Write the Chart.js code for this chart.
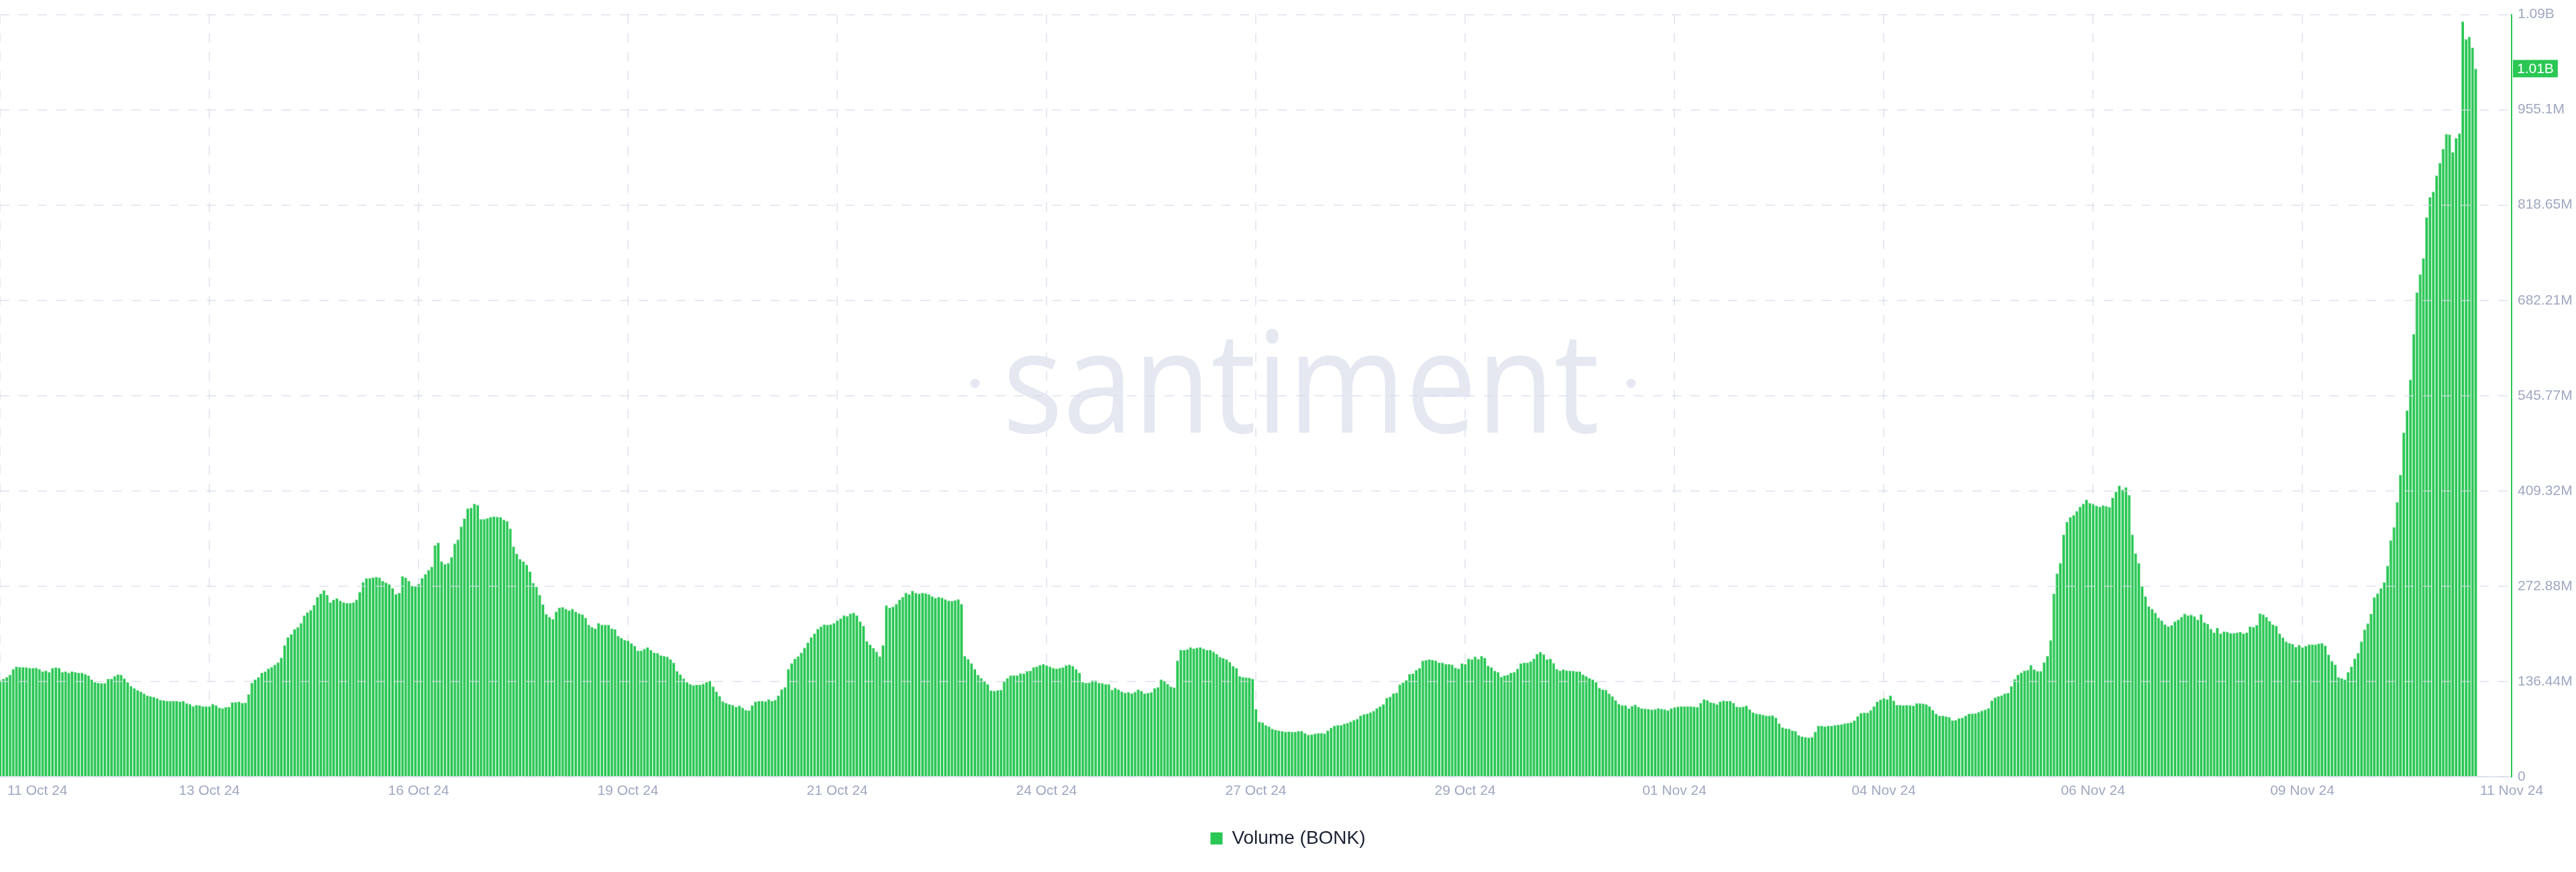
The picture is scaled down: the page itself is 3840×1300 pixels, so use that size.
<!DOCTYPE html>
<html>
<head>
<meta charset="utf-8">
<title>Volume (BONK)</title>
<script src="https://cdn.jsdelivr.net/npm/chart.js@4.4.1/dist/chart.umd.min.js"></script>
<style>
  html, body { margin: 0; padding: 0; background: #fff; }
  #wrap { width: 3840px; height: 1300px; }
</style>
</head>
<body>
<div id="wrap"><canvas id="volumeChart" width="3840" height="1300"></canvas></div>
<script>
// hourly volume in millions of BONK, starting 11 Oct 24
const volumes = [
  138.0, 140.2, 142.8, 146.3, 154.5, 158.0, 157.4, 157.4, 157.1, 156.1, 155.8, 156.4, 154.5, 150.7, 152.3, 150.1, 155.5, 156.7, 156.1, 150.1,
  151.0, 149.1, 151.0, 150.1, 149.1, 149.1, 146.9, 145.0, 139.3, 135.5, 134.5, 134.2, 134.2, 140.2, 140.2, 144.1, 146.6, 146.3, 140.9, 135.5,
  130.1, 126.9, 124.1, 122.2, 119.0, 116.4, 115.5, 114.2, 112.6, 110.1, 109.8, 108.5, 108.8, 108.5, 108.5, 107.9, 108.5, 105.3, 104.4, 101.2,
  102.8, 102.5, 101.2, 100.9, 101.2, 104.4, 102.5, 99.0, 98.4, 99.9, 100.3, 106.9, 107.2, 107.9, 105.7, 106.3, 118.4, 134.5, 139.6, 142.8,
  149.1, 151.0, 155.2, 157.4, 160.6, 164.0, 170.7, 188.5, 199.9, 204.3, 211.3, 214.2, 219.9, 231.0, 235.8, 238.9, 246.2, 257.6, 262.4, 267.2,
  260.5, 250.0, 253.8, 255.4, 252.3, 250.0, 248.8, 248.8, 249.7, 253.8, 264.9, 278.6, 284.3, 284.6, 285.6, 286.5, 285.3, 280.5, 278.3, 275.7,
  270.3, 261.8, 263.4, 287.2, 285.3, 280.8, 273.5, 273.2, 276.4, 284.9, 290.3, 296.4, 300.8, 331.9, 335.1, 308.4, 304.6, 306.2, 314.8, 334.1,
  339.8, 358.2, 369.7, 384.3, 385.5, 391.2, 389.0, 369.0, 369.3, 370.6, 372.2, 372.8, 372.5, 371.9, 368.4, 366.5, 355.7, 330.0, 319.5, 311.9,
  308.4, 303.7, 294.1, 277.6, 272.2, 260.5, 247.2, 233.2, 229.1, 225.6, 236.7, 242.1, 243.1, 240.5, 238.3, 240.5, 236.7, 234.2, 232.6, 227.8,
  217.7, 214.2, 212.3, 219.9, 217.7, 217.7, 217.7, 212.6, 211.3, 201.8, 198.9, 196.1, 195.1, 191.3, 187.5, 180.5, 180.5, 183.1, 185.3, 181.8,
  178.0, 177.4, 173.9, 172.9, 172.0, 168.5, 163.4, 151.4, 146.6, 140.9, 135.8, 132.9, 131.4, 132.0, 132.0, 133.3, 135.8, 137.7, 129.5, 122.2,
  116.1, 108.2, 105.7, 104.1, 102.8, 100.3, 101.9, 99.0, 95.8, 95.2, 102.5, 107.9, 108.5, 108.5, 108.2, 111.1, 108.5, 110.1, 116.4, 125.3,
  128.5, 154.5, 162.8, 169.1, 172.6, 178.0, 185.0, 192.3, 199.9, 205.3, 212.0, 215.4, 218.3, 217.7, 218.6, 219.9, 223.7, 226.6, 231.3, 230.4,
  233.9, 235.1, 231.3, 222.7, 216.1, 194.5, 189.1, 184.4, 179.3, 172.6, 188.2, 245.6, 242.4, 243.7, 247.5, 253.5, 257.3, 263.7, 261.5, 266.5,
  263.4, 262.4, 263.7, 263.0, 261.5, 258.3, 256.1, 257.6, 256.4, 254.2, 252.3, 251.6, 253.2, 254.2, 247.5, 173.2, 168.8, 162.8, 154.5, 146.3,
  141.5, 137.4, 132.6, 123.7, 123.1, 124.1, 124.7, 137.1, 141.2, 145.0, 145.6, 145.6, 147.9, 147.9, 151.4, 152.0, 157.1, 158.0, 160.2, 161.5,
  159.9, 158.0, 156.1, 155.2, 156.1, 157.1, 159.6, 160.9, 159.0, 154.5, 149.1, 135.8, 134.5, 134.9, 138.0, 138.0, 134.5, 134.2, 132.6, 132.6,
  124.7, 127.6, 125.0, 122.2, 120.6, 121.5, 119.6, 121.8, 125.0, 123.1, 119.6, 120.3, 121.2, 126.9, 128.5, 139.6, 137.4, 133.3, 129.5, 127.9,
  166.6, 182.1, 181.8, 182.4, 185.3, 184.0, 185.0, 185.3, 183.4, 181.5, 181.8, 179.3, 176.1, 171.7, 170.1, 168.2, 164.4, 158.7, 155.5, 144.4,
  142.8, 142.5, 141.8, 140.2, 97.1, 79.0, 77.7, 74.2, 72.3, 68.9, 67.3, 66.3, 65.4, 64.7, 65.0, 64.4, 64.4, 65.7, 65.7, 62.5,
  60.3, 60.9, 61.9, 62.5, 62.8, 62.2, 66.3, 70.1, 73.3, 74.2, 73.9, 75.8, 77.4, 79.3, 81.5, 83.1, 87.9, 89.8, 90.4, 92.3,
  94.6, 98.4, 100.9, 104.1, 113.0, 114.9, 119.6, 120.6, 132.3, 135.2, 138.3, 147.5, 147.9, 153.3, 155.5, 166.3, 167.2, 168.2, 167.5, 166.6,
  163.7, 163.7, 161.8, 161.5, 160.9, 156.4, 155.2, 162.5, 161.5, 169.4, 168.2, 172.3, 168.8, 173.2, 170.4, 159.3, 157.1, 152.0, 150.4, 143.1,
  145.0, 146.0, 149.1, 150.4, 154.8, 162.5, 163.7, 163.4, 165.3, 169.4, 176.1, 178.6, 175.5, 168.2, 169.1, 163.1, 154.5, 152.3, 153.6, 152.6,
  151.7, 151.7, 151.0, 151.0, 146.6, 144.1, 141.5, 139.3, 135.8, 127.6, 125.0, 124.7, 119.0, 115.5, 109.5, 104.4, 102.5, 102.5, 98.0, 101.5,
  103.4, 100.3, 98.0, 97.7, 97.1, 96.5, 96.8, 98.4, 97.4, 96.8, 95.2, 98.0, 99.6, 100.6, 101.2, 101.2, 100.9, 100.9, 100.6, 99.9,
  105.7, 111.1, 109.8, 106.6, 105.7, 103.8, 107.9, 109.2, 108.8, 108.5, 105.7, 100.6, 99.9, 100.6, 101.9, 96.8, 92.3, 90.7, 90.1, 89.2,
  87.9, 87.6, 88.2, 85.0, 76.5, 70.8, 69.5, 68.9, 66.3, 65.7, 59.7, 57.7, 57.1, 56.5, 56.8, 64.4, 73.0, 73.0, 72.3, 73.0,
  73.0, 73.9, 74.6, 75.5, 76.5, 77.4, 77.7, 80.6, 86.9, 91.4, 92.0, 92.0, 95.5, 100.9, 107.6, 110.4, 112.6, 111.1, 116.4, 109.2,
  102.8, 102.8, 102.5, 102.8, 102.5, 101.9, 105.3, 105.3, 105.0, 103.8, 101.2, 95.8, 90.4, 87.6, 87.9, 86.6, 85.4, 81.2, 81.5, 84.1,
  84.7, 87.6, 90.4, 90.7, 91.1, 93.0, 94.9, 96.5, 98.4, 109.2, 113.9, 115.2, 116.8, 119.0, 120.3, 129.8, 139.9, 146.3, 149.4, 152.3,
  153.3, 160.2, 153.9, 151.4, 151.4, 164.0, 173.2, 195.8, 262.1, 291.3, 306.2, 346.8, 364.9, 371.9, 374.7, 380.4, 386.8, 390.9, 396.6, 392.2,
  390.6, 388.4, 386.8, 388.7, 387.7, 386.5, 399.8, 408.4, 416.9, 411.2, 414.7, 403.3, 347.1, 319.8, 306.2, 273.2, 258.3, 244.3, 240.5, 235.1,
  228.1, 223.7, 218.6, 215.4, 217.4, 222.7, 225.3, 229.1, 233.9, 231.3, 232.3, 230.0, 225.3, 232.9, 221.5, 218.9, 212.0, 206.8, 213.3, 205.4,
  208.2, 207.5, 206.1, 206.1, 206.8, 207.5, 205.4, 206.8, 215.4, 214.7, 217.6, 234.1, 232.7, 229.1, 223.3, 218.3, 216.1, 205.4, 199.6, 193.9,
  191.7, 190.3, 186.0, 188.9, 185.3, 187.4, 189.6, 189.6, 189.6, 191.0, 191.7, 188.1, 175.2, 165.9, 160.9, 142.9, 141.5, 139.3, 150.1, 158.0,
  169.5, 177.4, 193.9, 211.1, 219.7, 233.4, 257.1, 262.8, 270.0, 278.6, 302.3, 338.9, 357.6, 393.5, 432.3, 493.3, 524.9, 568.7, 634.1, 693.7,
  719.5, 742.5, 801.4, 830.1, 838.0, 861.0, 879.0, 899.1, 920.6, 919.9, 894.8, 914.9, 921.3, 1081.5, 1056.3, 1059.9, 1044.1, 1014.0
];

// one date label every 64 hours
const hoursPerTick = 64;
const xTickLabels = ['11 Oct 24', '13 Oct 24', '16 Oct 24', '19 Oct 24', '21 Oct 24', '24 Oct 24', '27 Oct 24',
  '29 Oct 24', '01 Nov 24', '04 Nov 24', '06 Nov 24', '09 Nov 24', '11 Nov 24'];

const yTickValues = [0, 136.44, 272.88, 409.32, 545.77, 682.21, 818.65, 955.1, 1091.52];
const yTickLabels = ['0', '136.44M', '272.88M', '409.32M', '545.77M', '682.21M', '818.65M', '955.1M', '1.09B'];

const seriesLabel = 'Volume (BONK)';

// styles
const green = '#2ac754';
const axisText = '#9fa7c1';
const gridColor = 'rgba(214, 218, 234, 0.6)';
const labelFont = '"Liberation Sans", Arial, Helvetica, sans-serif';
const markFont = '"Open Sans", "DejaVu Sans", sans-serif';

Chart.defaults.font.family = labelFont;

// santiment watermark in the middle of the plot
const watermark = {
    id: 'watermark',
    beforeDatasetsDraw(chart) {
        const { ctx, chartArea } = chart;
        const cx = chartArea.left + chartArea.width * 0.518;
        const base = chartArea.top + chartArea.height * 0.549;
        ctx.save();
        ctx.fillStyle = '#e5e8f1';
        ctx.font = `100px ${markFont}`;
        const w100 = ctx.measureText('santiment').width;
        const size = 100 * 890 / w100;
        ctx.font = `${size}px ${markFont}`;
        ctx.translate(cx, base);
        ctx.scale(1, 1.12);
        ctx.textAlign = 'center';
        ctx.textBaseline = 'alphabetic';
        ctx.fillText('santiment', 0, 0);
        ctx.restore();
        // dots either side
        ctx.save();
        ctx.fillStyle = '#e5e8f1';
        ctx.beginPath();
        ctx.arc(cx - 486, base - 74, 7, 0, Math.PI * 2);
        ctx.fill();
        ctx.beginPath();
        ctx.arc(cx + 492, base - 74, 7, 0, Math.PI * 2);
        ctx.fill();
        ctx.restore();
    }
};

// date labels under the axis, first one kept inside the canvas
const xLabels = {
    id: 'xLabels',
    afterDraw(chart) {
        const { ctx } = chart;
        const xs = chart.scales.x;
        ctx.save();
        ctx.font = `21px ${labelFont}`;
        ctx.fillStyle = axisText;
        ctx.textBaseline = 'middle';
        const y = xs.top + 21;
        xTickLabels.forEach((label, k) => {
            const px = xs.getPixelForValue(k * hoursPerTick);
            ctx.textAlign = k === 0 ? 'left' : 'center';
            ctx.fillText(label, k === 0 ? px + 11 : px, y);
        });
        ctx.restore();
    }
};

// green badge with the latest value on the right axis
const lastValue = {
    id: 'lastValue',
    afterDraw(chart) {
        const { ctx, chartArea } = chart;
        const v = volumes[volumes.length - 1];
        const y = chart.scales.y.getPixelForValue(v);
        const text = (v / 1000).toFixed(2) + 'B';
        ctx.save();
        ctx.font = `21px ${labelFont}`;
        const w = ctx.measureText(text).width;
        ctx.fillStyle = green;
        ctx.fillRect(chartArea.right + 2, y - 13, w + 12, 26);
        ctx.fillStyle = '#ffffff';
        ctx.textBaseline = 'middle';
        ctx.textAlign = 'left';
        ctx.fillText(text, chartArea.right + 8, y + 1);
        ctx.restore();
    }
};

const ctx = document.getElementById('volumeChart').getContext('2d');
const volumeChart = new Chart(ctx, {
    type: 'bar',
    data: {
        datasets: [{
            label: seriesLabel,
            data: volumes.map((v, i) => ({ x: i, y: v })),
            backgroundColor: green,
            borderColor: '#7fdc98',
            borderWidth: { left: 1, top: 1, right: 0, bottom: 0 },
            borderSkipped: false,
            barPercentage: 0.92,
            categoryPercentage: 1
        }]
    },
    options: {
        responsive: false,
        animation: false,
        events: [],
        layout: {
            padding: { top: 15, bottom: 26, left: 0, right: 0 }
        },
        plugins: {
            tooltip: { enabled: false },
            legend: {
                position: 'bottom',
                labels: {
                    boxWidth: 18,
                    boxHeight: 18,
                    padding: 10,
                    color: '#1b2133',
                    font: { size: 28, family: labelFont },
                    generateLabels: () => [{
                        text: seriesLabel,
                        fillStyle: green,
                        strokeStyle: green,
                        lineWidth: 0,
                        fontColor: '#1b2133',
                        hidden: false,
                        datasetIndex: 0
                    }]
                }
            }
        },
        scales: {
            x: {
                type: 'linear',
                min: 0,
                max: (xTickLabels.length - 1) * hoursPerTick,
                offset: false,
                grid: { offset: false, color: gridColor, lineWidth: 2, drawTicks: false },
                border: { display: true, color: '#e2e6ee', width: 2, dash: [14, 14], z: 1 },
                ticks: { display: false, stepSize: hoursPerTick },
                afterBuildTicks: (scale) => {
                    scale.ticks = xTickLabels.map((_, k) => ({ value: k * hoursPerTick }));
                },
                afterFit: (scale) => {
                    scale.height = 68;
                    scale.paddingLeft = 0;
                    scale.paddingRight = 0;
                }
            },
            y: {
                position: 'right',
                min: 0,
                max: yTickValues[yTickValues.length - 1],
                grid: { color: gridColor, lineWidth: 2, drawTicks: false, z: 1 },
                border: { display: true, color: green, width: 2, dash: [14, 14], z: 1 },
                ticks: {
                    color: axisText,
                    padding: 9,
                    font: { size: 21, family: labelFont },
                    callback: (value, index) => yTickLabels[index]
                },
                afterBuildTicks: (scale) => {
                    scale.ticks = yTickValues.map(value => ({ value }));
                },
                afterFit: (scale) => {
                    scale.width = 96;
                }
            }
        }
    },
    plugins: [watermark, xLabels, lastValue]
});
</script>
</body>
</html>
